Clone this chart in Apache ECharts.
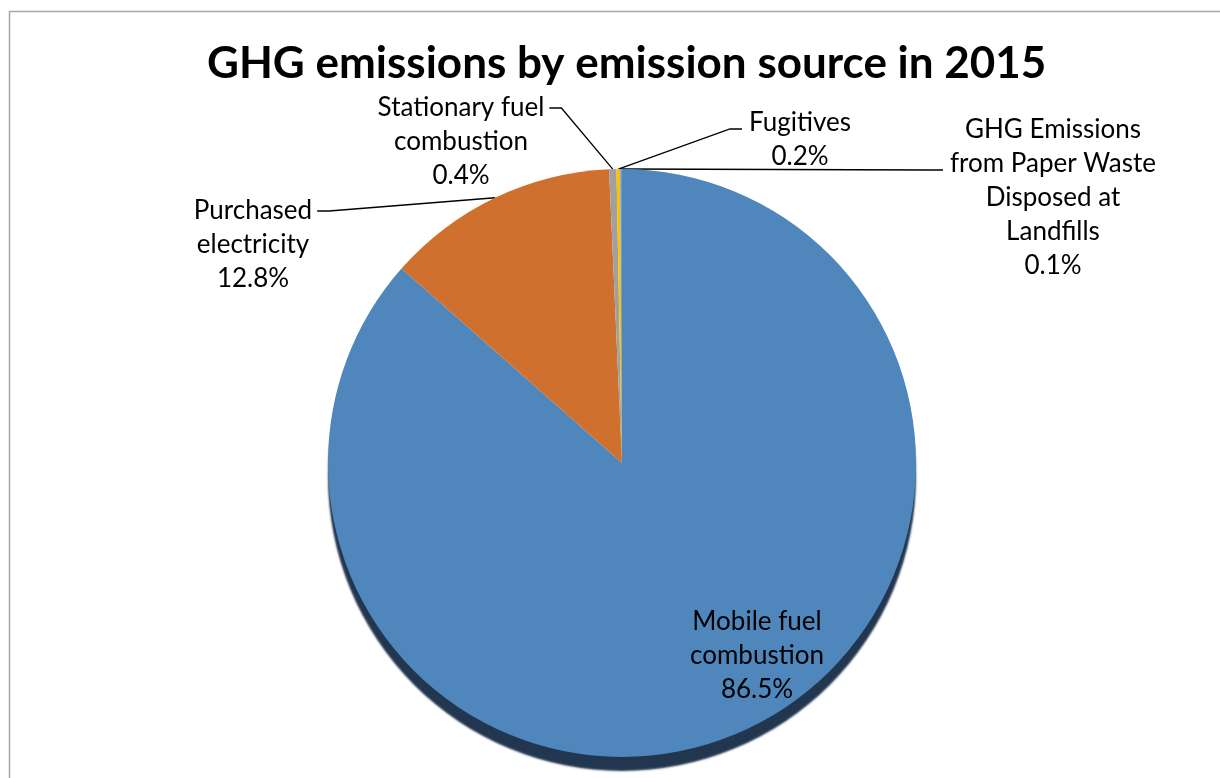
<!DOCTYPE html>
<html>
<head>
<meta charset="utf-8">
<script src="https://cdn.jsdelivr.net/npm/echarts@6/dist/echarts.min.js"></script>
<style>
html,body{margin:0;padding:0;background:#fff;}
#chart{width:1220px;height:778px;}
</style>
</head>
<body>
<div id="chart"></div>
<script>
var titleText = 'GHG emissions by emission source in 2015';
var categories = ['Mobile fuel combustion', 'Purchased electricity', 'Stationary fuel combustion', 'Fugitives', 'GHG Emissions from Paper Waste Disposed at Landfills'];
var labelNames = ['Mobile fuel\ncombustion', 'Purchased\nelectricity', 'Stationary fuel\ncombustion', 'Fugitives', 'GHG Emissions\nfrom Paper Waste\nDisposed at\nLandfills'];
var shares = [86.5, 12.8, 0.4, 0.2, 0.1];
var colors = ['#4F86BB', '#D0702F', '#A0A0A0', '#FFC000', '#6A9FD6'];

// label block centers and which side / line the leader attaches to
var labelCenters = [[757, 656], [253, 245], [461, 142], [800, 140], [1053, 198]];
var attach = [null, ['right', 0], ['right', 0], ['left', 0], ['left', 1]];
var LH = 34;

var chart = echarts.init(document.getElementById('chart'), null, {renderer: 'canvas'});
var data = categories.map(function (c, i) {
  var item = {
    name: c,
    value: shares[i],
    itemStyle: {color: colors[i]}
  };
  if (i === 0) {
    item.itemStyle.shadowColor = '#22374F';
    item.itemStyle.shadowOffsetY = 14;
    item.itemStyle.shadowBlur = 2;
    item.label = {position: 'inside'};
    item.labelLine = {show: false};
  }
  return item;
});

chart.setOption({
  backgroundColor: '#fff',
  animation: false,
  title: {
    text: titleText,
    left: 202,
    top: 37,
    textStyle: {fontFamily: 'Lato', fontWeight: 'bold', fontSize: 44, color: '#000'}
  },
  graphic: [{
    type: 'rect',
    shape: {x: 9.5, y: 11.5, width: 1400, height: 1000},
    style: {fill: 'none', stroke: '#A6A6A6', lineWidth: 1.5},
    silent: true
  }],
  series: [{
    type: 'pie',
    center: [622, 463],
    radius: 294,
    startAngle: 90,
    clockwise: true,
    percentPrecision: 1,
    data: data,
    itemStyle: {borderWidth: 0},
    label: {
      show: true,
      position: 'outside',
      formatter: function (p) {
        return labelNames[p.dataIndex] + '\n' + p.value.toFixed(1) + '%';
      },
      fontFamily: 'Lato',
      fontSize: 26,
      lineHeight: LH,
      color: '#000',
      align: 'center'
    },
    labelLine: {
      show: true,
      length: 20,
      length2: 12,
      lineStyle: {color: '#000', width: 1.3}
    },
    labelLayout: function (p) {
      var i = p.dataIndex;
      var c = labelCenters[i];
      var res = {x: c[0], y: c[1], align: 'center', verticalAlign: 'middle'};
      var a = attach[i];
      if (a && p.labelLinePoints) {
        var w = p.labelRect.width, h = p.labelRect.height;
        var ly = c[1] - h / 2 + LH / 2 + a[1] * LH + (a[0] === 'left' ? 6 : 0);
        var start = p.labelLinePoints[0];
        var ex, mx;
        if (a[0] === 'right') { ex = c[0] + w / 2 + 5; mx = ex + 12; }
        else { ex = c[0] - w / 2 - 7; mx = ex - 12; }
        res.labelLinePoints = [start, [mx, ly], [ex, ly]];
      }
      return res;
    }
  }]
});
</script>
</body>
</html>
